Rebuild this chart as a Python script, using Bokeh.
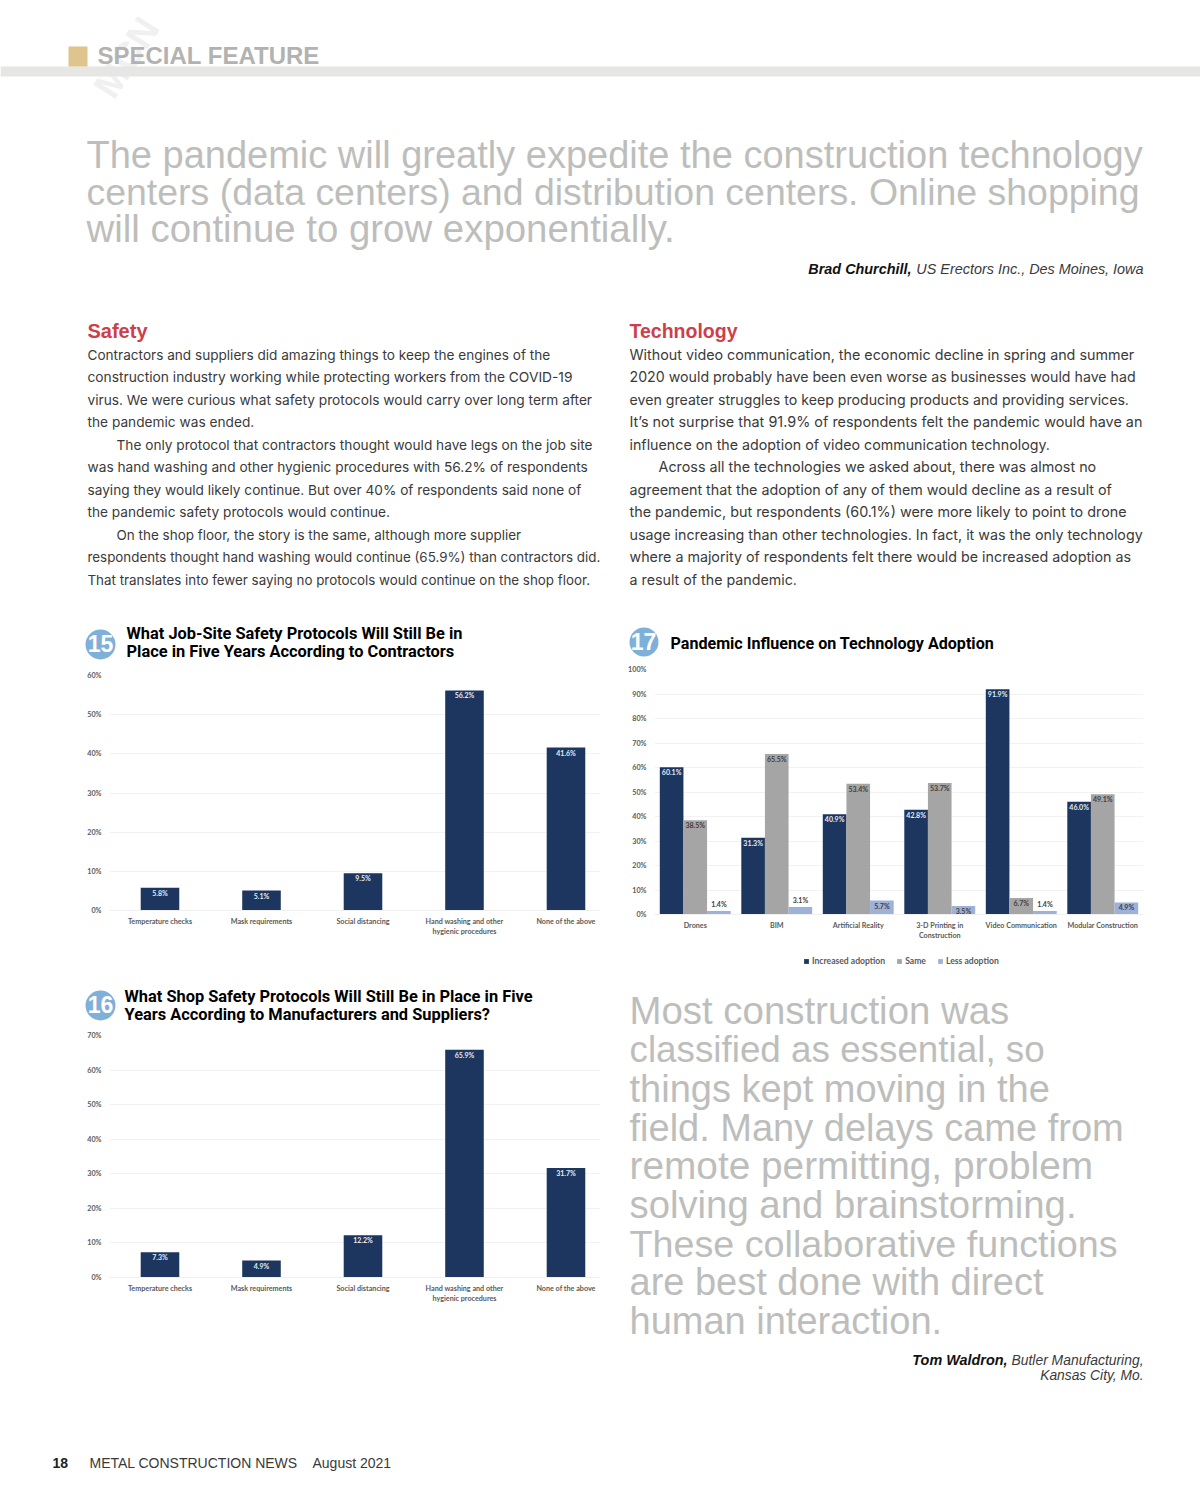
from bokeh.embed import file_html
from bokeh.resources import INLINE
from bokeh.plotting import figure
from bokeh.layouts import column, row
from bokeh.models import (Label, BoxAnnotation, Range1d, FixedTicker, PrintfTickFormatter,
                          ColumnDataSource, Legend, LegendItem)
from bokeh.core.properties import value

# ---------- data ----------
protocols = ["Temperature checks", "Mask requirements", "Social distancing",
             "Hand washing and other\nhygienic procedures", "None of the above"]
contractors = [5.8, 5.1, 9.5, 56.2, 41.6]
suppliers = [7.3, 4.9, 12.2, 65.9, 31.7]
techs = ["Drones", "BIM", "Artificial Reality", "3-D Printing in\nConstruction",
         "Video Communication", "Modular Construction"]
increased = [60.1, 31.3, 40.9, 42.8, 91.9, 46.0]
same = [38.5, 65.5, 53.4, 53.7, 6.7, 49.1]
less = [1.4, 3.1, 5.7, 3.5, 1.4, 4.9]
ticks_15 = [0, 10, 20, 30, 40, 50, 60]
ticks_16 = [0, 10, 20, 30, 40, 50, 60, 70]
ticks_17 = [0, 10, 20, 30, 40, 50, 60, 70, 80, 90, 100]

NAVY, GREY, LBLUE = "#1c365f", "#a5a5a5", "#9db1d9"
TICK = "#5a5a5a"
QUOTE = "#bdbebc"
BODY = "#3a3a3a"
BODYF = "Inter"
HEADF = "Liberation Sans"
TITLEF = "Roboto"
TS = 16.4
CHARTF = "Lato"

quote_top = ["The pandemic will greatly expedite the construction technology",
             "centers (data centers) and distribution centers. Online shopping",
             "will continue to grow exponentially."]
quote_top_size = [38, 37.45, 38.4]
safety = [(87, "Contractors and suppliers did amazing things to keep the engines of the"),
          (87, "construction industry working while protecting workers from the COVID-19"),
          (87, "virus. We were curious what safety protocols would carry over long term after"),
          (87, "the pandemic was ended."),
          (116, "The only protocol that contractors thought would have legs on the job site"),
          (87, "was hand washing and other hygienic procedures with 56.2% of respondents"),
          (87, "saying they would likely continue. But over 40% of respondents said none of"),
          (87, "the pandemic safety protocols would continue."),
          (116, "On the shop floor, the story is the same, although more supplier"),
          (87, "respondents thought hand washing would continue (65.9%) than contractors did."),
          (87, "That translates into fewer saying no protocols would continue on the shop floor.")]
safety_size = [13.6, 13.77, 13.72, 13.7, 13.66, 13.7, 13.65, 13.67, 13.47, 13.37, 13.37]
technology = [(629, "Without video communication, the economic decline in spring and summer"),
              (629, "2020 would probably have been even worse as businesses would have had"),
              (629, "even greater struggles to keep producing products and providing services."),
              (629, "It\u2019s not surprise that 91.9% of respondents felt the pandemic would have an"),
              (629, "influence on the adoption of video communication technology."),
              (658, "Across all the technologies we asked about, there was almost no"),
              (629, "agreement that the adoption of any of them would decline as a result of"),
              (629, "the pandemic, but respondents (60.1%) were more likely to point to drone"),
              (629, "usage increasing than other technologies. In fact, it was the only technology"),
              (629, "where a majority of respondents felt there would be increased adoption as"),
              (629, "a result of the pandemic.")]
technology_size = [14.3, 14.2, 14.17, 14.42, 14.25, 14.33, 14.3, 14.36, 14.28, 14.28, 14.25]
body_y = [355, 377, 400, 422, 445, 467, 490, 512, 535, 557, 580]
quote_low = ["Most construction was", "classified as essential, so", "things kept moving in the",
             "field. Many delays came from", "remote permitting, problem",
             "solving and brainstorming.", "These collaborative functions",
             "are best done with direct", "human interaction."]
quote_low_y = [1011, 1050, 1089, 1128, 1166, 1205, 1244, 1282, 1321]
quote_low_size = [38.4, 36.8, 38, 38, 38.8, 38.3, 37.7, 38, 38]

# ---------- helpers ----------
def txt(p, ox, oy, x, y, s, size, color="#000000", font=BODYF, style="normal",
        align="left", baseline="middle", angle=0.0, level="annotation"):
    p.add_layout(Label(x=x - ox, y=y - oy - 1, x_units="canvas", y_units="canvas", text=s,
                       text_font=font, text_font_size=f"{size}px", text_color=color,
                       text_font_style=style, text_align=align, text_baseline=baseline,
                       angle=angle, level=level))

def box(p, ox, oy, l, t, r, b, color, radius=0):
    p.add_layout(BoxAnnotation(left=l - ox, right=r - ox, top=t - oy, bottom=b - oy,
                               left_units="canvas", right_units="canvas",
                               top_units="canvas", bottom_units="canvas",
                               fill_color=color, fill_alpha=1, line_color=None,
                               border_radius=radius, level="underlay"))

def blank(w, h):
    p = figure(width=w, height=h, output_backend="svg", toolbar_location=None,
               x_axis_location=None, y_axis_location=None, min_border=0,
               x_range=(0, 1), y_range=(0, 1), frame_align=False)
    p.grid.visible = False
    p.outline_line_color = None
    return p

def chart(x0, y0, w, h, fl, fr, ft, fb, xr, ymax, yticks, labels):
    p = figure(width=w, height=h, output_backend="svg", toolbar_location=None,
               min_border_left=fl - x0, min_border_right=x0 + w - fr,
               min_border_top=ft - y0, min_border_bottom=y0 + h - fb,
               x_range=Range1d(*xr), y_range=Range1d(0, ymax), frame_align=False)
    p.outline_line_color = None
    p.xgrid.visible = False
    p.ygrid.grid_line_color = "#f2f2f2"
    p.ygrid.grid_line_width = 1
    p.xaxis.ticker = FixedTicker(ticks=list(range(len(labels))))
    p.xaxis.major_label_overrides = {i: s for i, s in enumerate(labels)}
    p.yaxis.ticker = FixedTicker(ticks=yticks)
    p.yaxis.formatter = PrintfTickFormatter(format="%d%%")
    for a in (p.xaxis[0], p.yaxis[0]):
        a.major_tick_line_color = None
        a.minor_tick_line_color = None
        a.major_label_text_font = CHARTF
        a.major_label_text_font_size = "7.2px"
        a.major_label_text_font_style = "bold"
        a.major_label_text_color = TICK
    p.yaxis.axis_line_color = None
    p.xaxis.axis_line_color = "#f0f0f0"
    p.xaxis.major_label_standoff = 0
    p.yaxis.major_label_standoff = 2
    return p

def labels_on(p, xs, vals, color, inside=None, off=1):
    inside = inside or [True] * len(vals)
    for want, base, dy in ((True, "top", off), (False, "bottom", -3)):
        idx = [i for i, f in enumerate(inside) if f == want]
        if not idx:
            continue
        src = ColumnDataSource(dict(x=[xs[i] for i in idx], y=[vals[i] for i in idx],
                                    t=[f"{vals[i]:.1f}%" for i in idx]))
        p.text("x", "y", text="t", source=src, text_align="center", text_baseline=base,
               y_offset=dy, text_font=value(CHARTF), text_font_size="7px",
               text_font_style="bold", text_color=color)

# ---------- top of page (down to the first chart frames) ----------
ROW2 = 663
top = blank(1200, ROW2)
O = (0, 0)
txt(top, *O, 126, 58, "MCN", 38, "#f0f0f0", font=HEADF, style="bold", align="center", angle=1.0, level="underlay")
box(top, *O, 0, 66, 1200, 76, "#e6e6e5")
box(top, *O, 68, 46, 87, 66, "#dfc48e")
txt(top, *O, 97, 56, "SPECIAL FEATURE", 24, "#b2b3b1", font=HEADF, style="bold")
for yy, s, fs in zip((155, 192, 229), quote_top, quote_top_size):
    txt(top, *O, 86, yy, s, fs, QUOTE, font=HEADF)
txt(top, *O, 911, 269, "Brad Churchill,", 14.4, "#111111", font=HEADF, style="bold italic", align="right")
txt(top, *O, 1143, 269, "US Erectors Inc., Des Moines, Iowa", 14.4, BODY, font=HEADF, style="italic", align="right")
txt(top, *O, 87, 331, "Safety", 20, "#cf3f4a", font=HEADF, style="bold")
txt(top, *O, 629, 331, "Technology", 19.5, "#cf3f4a", font=HEADF, style="bold")
for yy, (xx, s), fs in zip(body_y, safety, safety_size):
    txt(top, *O, xx, yy, s, fs, BODY)
for yy, (xx, s), fs in zip(body_y, technology, technology_size):
    txt(top, *O, xx, yy, s, fs, BODY)
box(top, *O, 85, 629, 115, 659, "#7fb0da", radius=15)
txt(top, *O, 100, 644, "15", 23, "#ffffff", font=HEADF, style="bold", align="center")
txt(top, *O, 126, 634, "What Job-Site Safety Protocols Will Still Be in", TS, "#000000", TITLEF, "bold")
txt(top, *O, 126, 652, "Place in Five Years According to Contractors", TS, "#000000", TITLEF, "bold")
box(top, *O, 629, 627, 658, 656, "#7fb0da", radius=15)
txt(top, *O, 643, 642, "17", 23, "#ffffff", font=HEADF, style="bold", align="center")
txt(top, *O, 670, 644, "Pandemic Influence on Technology Adoption", 16.1, "#000000", TITLEF, "bold")

# ---------- chart 15 ----------
c15 = chart(0, ROW2, 608, 975 - ROW2, 109, 600, 675, 910, (-0.4975, 4.34), 60, ticks_15, protocols)
xs = list(range(5))
c15.vbar(x=xs, top=contractors, width=0.38, color=NAVY, line_color=None)
labels_on(c15, xs, contractors, "#e6ecf5")

# ---------- chart 17 ----------
STRIP = 950
c17 = chart(608, ROW2, 592, STRIP - ROW2, 654, 1143, 669, 914, (-0.5, 5.5), 100, ticks_17, techs)
xs = list(range(6))
W = 0.29
xa = [x - W for x in xs]
xc = [x + W for x in xs]
c17.vbar(x=xa, top=increased, width=W, color=NAVY, line_color=None)
c17.vbar(x=xs, top=same, width=W, color=GREY, line_color=None)
c17.vbar(x=xc, top=less, width=W, color=LBLUE, line_color=None)
labels_on(c17, xa, increased, "#e6ecf5")
labels_on(c17, xs, same, "#404040")
labels_on(c17, xc, less, "#404040", inside=[False, False, True, True, False, True])

strip = blank(592, 975 - STRIP)
items = []
for name, col in (("Increased adoption", NAVY), ("Same", GREY), ("Less adoption", LBLUE)):
    # key swatch only: a bar of zero height, so nothing shows but the legend entry
    r = strip.vbar(x=[0.5], top=[0], width=0.1, color=col, line_color=None)
    items.append(LegendItem(label=name, renderers=[r]))
leg = Legend(items=items, orientation="horizontal", location=(195, 9), background_fill_alpha=0,
             border_line_color=None, glyph_width=6, glyph_height=6, spacing=11,
             label_standoff=3, padding=0, margin=0,
             label_text_font=CHARTF, label_text_font_size="8.6px",
             label_text_font_style="bold", label_text_color=TICK)
strip.add_layout(leg, "center")

# ---------- chart 16 ----------
T16 = 1028
t16 = blank(608, T16 - 975)
O = (0, 975)
box(t16, *O, 85, 990, 115, 1020, "#7fb0da", radius=15)
txt(t16, *O, 100, 1005, "16", 23, "#ffffff", font=HEADF, style="bold", align="center")
txt(t16, *O, 124, 997, "What Shop Safety Protocols Will Still Be in Place in Five", TS, "#000000", TITLEF, "bold")
txt(t16, *O, 124, 1015, "Years According to Manufacturers and Suppliers?", TS, "#000000", TITLEF, "bold")

c16 = chart(0, T16, 608, 1310 - T16, 109, 600, 1035, 1277, (-0.4975, 4.34), 70, ticks_16, protocols)
xs = list(range(5))
c16.vbar(x=xs, top=suppliers, width=0.38, color=NAVY, line_color=None)
labels_on(c16, xs, suppliers, "#e6ecf5")

foot = blank(608, 1504 - 1310)
O = (0, 1310)
txt(foot, *O, 52, 1463, "18", 14, "#222222", font=HEADF, style="bold")
txt(foot, *O, 89, 1463, "METAL CONSTRUCTION NEWS", 14, BODY, font=HEADF)
txt(foot, *O, 312, 1463, "August 2021", 14, BODY, font=HEADF)

# ---------- lower right quote ----------
fq = blank(592, 1504 - 975)
O = (608, 975)
for yy, s, fs in zip(quote_low_y, quote_low, quote_low_size):
    txt(fq, *O, 629, yy, s, fs, QUOTE, font=HEADF)
txt(fq, *O, 1007, 1360, "Tom Waldron,", 14.4, "#111111", font=HEADF, style="bold italic", align="right")
txt(fq, *O, 1143, 1360, "Butler Manufacturing,", 13.9, BODY, font=HEADF, style="italic", align="right")
txt(fq, *O, 1143, 1376, "Kansas City, Mo.", 13.8, BODY, font=HEADF, style="italic", align="right")

page = column(top, row(c15, column(c17, strip)), row(column(t16, c16, foot), fq), spacing=0)
open("out.html", "w").write(file_html(page, INLINE))
